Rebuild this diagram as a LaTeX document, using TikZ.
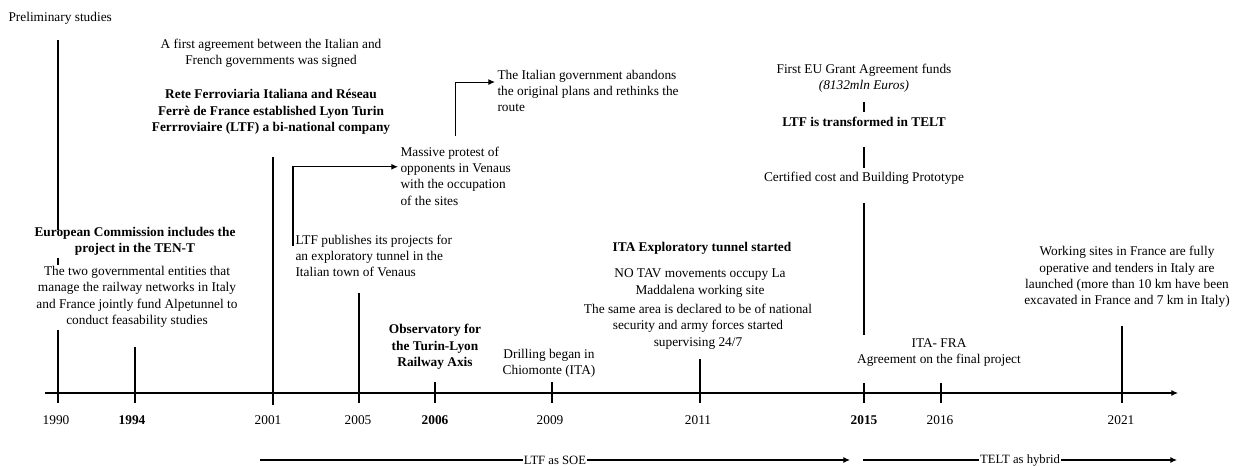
\documentclass[tikz,border=0pt]{standalone}
\usepackage{fontspec}
\setmainfont{Liberation Serif}
\usetikzlibrary{arrows.meta}

\begin{document}
\begin{tikzpicture}[x=0.75pt, y=-0.75pt, >={Latex[length=5pt,width=4.5pt]}, line width=0.8pt,
        ev/.style={align=center, font=\fontsize{10}{12.3}\selectfont, inner sep=1.5pt},
        evb/.style={ev, font=\fontsize{10}{12.3}\selectfont\bfseries},
        evl/.style={ev, align=left, anchor=west},
        yr/.style={font=\fontsize{10}{12}\selectfont, inner sep=1pt},
        yrb/.style={yr, font=\fontsize{10}{12}\selectfont\bfseries},
        span/.style={fill=white, inner sep=0.5pt, font=\fontsize{9.5}{11}\selectfont}]
        \useasboundingbox (0,0) rectangle (1241,466);

        % time axis
        \coordinate (A0) at (45,393);
        \coordinate (A1) at (1178,393);
        \draw[->] (A0) -- (A1);
        % ticks and drop lines
        \foreach \x/\a/\b in {58/40/230, 58/258/265, 58/330/403, 135/347/403, 273/157/405,
                359/293/403, 435/382/403, 552/382/403, 700/359/403, 864/102/112, 864/147/168,
                864/203/335, 864/383/403, 941/383/403, 1122/326/403}
            \draw (\x,\a) -- (\x,\b);

        % years
        \node[yr] (Y1990) at (56,420) {1990};
        \node[yrb] (Y1994) at (132,420) {1994};
        \node[yr] (Y2001) at (268,420) {2001};
        \node[yr] (Y2005) at (358,420) {2005};
        \node[yrb] (Y2006) at (435,420) {2006};
        \node[yr] (Y2009) at (550,420) {2009};
        \node[yr] (Y2011) at (698,420) {2011};
        \node[yrb] (Y2015) at (864,420) {2015};
        \node[yr] (Y2016) at (940,420) {2016};
        \node[yr] (Y2021) at (1121,420) {2021};

        % events
        \node[evl] (pre) at (6,18) {Preliminary studies};
        \node[ev] (agr) at (271,53.5) {A first agreement between the Italian and\\French governments was signed};
        \node[evb] (rfi) at (271,112) {Rete Ferroviaria Italiana and Réseau\\Ferrè de France established Lyon Turin\\Ferrroviaire (LTF) a bi-national company};
        \node[evb] (ec) at (135,241) {European Commission includes the\\project in the TEN-T};
        \node[ev] (alp) at (137,297) {The two governmental entities that\\manage the railway networks in Italy\\and France jointly fund Alpetunnel to\\conduct feasability studies};
        \node[evl] (pub) at (293,256) {LTF publishes its projects for\\an exploratory tunnel in the\\Italian town of Venaus};
        \node[evl] (pro) at (398,176) {Massive protest of\\opponents in Venaus\\with the occupation\\of the sites};
        \node[evl] (aba) at (495,91) {The Italian government abandons\\the original plans and rethinks the\\route};
        \node[evb] (obs) at (435,347) {Observatory for\\the Turin-Lyon\\Railway Axis};
        \node[ev] (dri) at (549,363) {Drilling began in\\Chiomonte (ITA)};
        \node[evb] (ita) at (702,248) {ITA Exploratory tunnel started};
        \node[ev] (tav) at (700,283) {NO TAV movements occupy La\\Maddalena working site};
        \node[ev] (sec) at (698,326.5) {The same area is declared to be of national\\security and army forces started\\supervising 24/7};
        \node[ev] (fun) at (864,78.5) {First EU Grant Agreement funds\\\textit{(8132mln Euros)}};
        \node[evb] (ltf) at (864,122) {LTF is transformed in TELT};
        \node[ev] (cer) at (864,178) {Certified cost and Building Prototype};
        \node[ev] (fra) at (939,352.5) {ITA- FRA\\Agreement on the final project};
        \node[ev] (wrk) at (1127,277) {Working sites in France are fully\\operative and tenders in Italy are\\launched (more than 10 km have been\\excavated in France and 7 km in Italy)};

        \draw[->] ([yshift=-10pt]pub.north west) |- ([yshift=-17pt]pro.north west);
        \draw[->] ([yshift=6pt]pro.north) |- ([yshift=-11pt]aba.north west);

        % company periods
        \coordinate (L0) at (260,460);
        \coordinate (L1) at (850,460);
        \coordinate (T0) at (863,460);
        \coordinate (T1) at (1177,460);
        \draw[->] (L0) -- node[span] {LTF as SOE} (L1);
        \draw[->] (T0) -- node[span] {TELT as hybrid} (T1);
    \end{tikzpicture}
\end{document}
